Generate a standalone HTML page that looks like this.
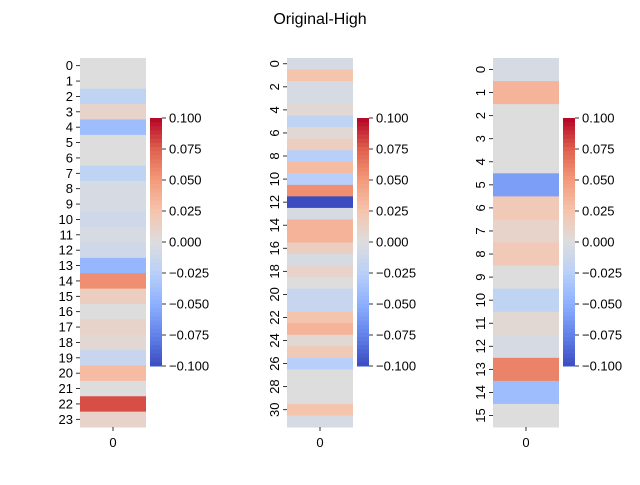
<!DOCTYPE html>
<html><head><meta charset="utf-8"><style>
body{margin:0;background:#fff}
svg{font-family:"Liberation Sans","DejaVu Sans",sans-serif;}
</style></head><body>
<svg id="fig" width="640" height="480" xmlns="http://www.w3.org/2000/svg">
<text x="320" y="24" text-anchor="middle" font-size="16">Original-High</text>
</svg>
<script>
const values1=[0,0,-0.02,0.01,-0.04,0,0,-0.02,-0.005,-0.005,-0.01,-0.005,-0.01,-0.045,0.055,0.015,0,0.01,0.005,-0.015,0.03,0,0.08,0.01];
const values2=[-0.005,0.025,-0.005,-0.005,0.005,-0.02,0.005,0.015,-0.025,0.03,-0.025,0.055,-0.1,-0.005,0.035,0.035,0.015,-0.005,0.01,0,-0.015,-0.015,0.025,0.035,0.005,0.02,-0.025,0,0,0,0.025,-0.005];
const values3=[-0.005,0.035,0,0,0,-0.06,0.02,0.01,0.02,0,-0.02,0.005,-0.005,0.06,-0.04,0];
const cbTicks=[0.1,0.075,0.05,0.025,0,-0.025,-0.05,-0.075,-0.1];
const cbLabels=["0.100","0.075","0.050","0.025","0.000","\u22120.025","\u22120.050","\u22120.075","\u22120.100"];
const vmin=-0.1,vmax=0.1;
const stops=[[59,76,192],[98,130,234],[141,176,254],[184,208,249],[221,221,221],[245,196,173],[244,154,123],[222,96,77],[180,4,38]];
function cmap(v){let t=(v-vmin)/(vmax-vmin);t=Math.max(0,Math.min(1,t));const q=t*8;const i=Math.min(7,Math.floor(q));const f=q-i;
const a=stops[i],b=stops[i+1];return `rgb(${a.map((c,k)=>Math.round(c+(b[k]-c)*f)).join(',')})`;}
const NS="http://www.w3.org/2000/svg";const svg=document.getElementById('fig');
function el(tag,attrs,parent){const e=document.createElementNS(NS,tag);for(const k in attrs)e.setAttribute(k,attrs[k]);(parent||svg).appendChild(e);return e;}
const panels=[{vals:values1,x:80,rot:false,step:1},{vals:values2,x:287,rot:true,step:2},{vals:values3,x:493,rot:true,step:1}];
const yTop=58,yBot=427,cellW=66;
panels.forEach((p,pi)=>{
 const g=el('g',{});
 
 
 const n=p.vals.length,h=(yBot-yTop)/n;
 const yScale=i=>yTop+i*h;
 p.vals.forEach((v,i)=>{
  const r=el('rect',{x:p.x,y:yScale(i),width:cellW,height:h+0.5,fill:cmap(v)},g);
  
  
 });
 for(let i=0;i<n;i+=p.step){
  const cy=yScale(i)+h/2;
  el('line',{x1:p.x-4,x2:p.x,y1:cy,y2:cy,stroke:'#000','stroke-width':0.8},g);
  const t=el('text',{'font-size':13},g);
  
  
  t.textContent=i;
  if(p.rot){t.setAttribute('transform',`translate(${p.x-8},${cy}) rotate(-90)`);t.setAttribute('text-anchor','middle');}
  else{t.setAttribute('x',p.x-7);t.setAttribute('y',cy+4.5);t.setAttribute('text-anchor','end');}
 }
 const cx=p.x+cellW/2;
 el('line',{x1:cx,x2:cx,y1:yBot,y2:yBot+4,stroke:'#000','stroke-width':0.8},g);
 const xt=el('text',{x:cx,y:yBot+20,'font-size':13,'text-anchor':'middle'},g);
 
 
 xt.textContent='0';
 const bx=p.x+cellW+4,by0=118,by1=366;
 const cb=el('g',{},g);
 
 
 const N=60;
 for(let k=0;k<N;k++){const v=vmax-(k+0.5)/N*(vmax-vmin);
  el('rect',{x:bx,y:by0+k*(by1-by0)/N,width:12,height:(by1-by0)/N+0.5,fill:cmap(v)},cb);}
 const cbY=v=>by0+(vmax-v)/(vmax-vmin)*(by1-by0);
 cbTicks.forEach((v,k)=>{const y=cbY(v);
  el('line',{x1:bx+12,x2:bx+16,y1:y,y2:y,stroke:'#000','stroke-width':0.8},cb);
  const t=el('text',{x:bx+19,y:y+4.5,'font-size':13},cb);
  
  
  t.textContent=cbLabels[k];});
});
</script>
</body></html>
